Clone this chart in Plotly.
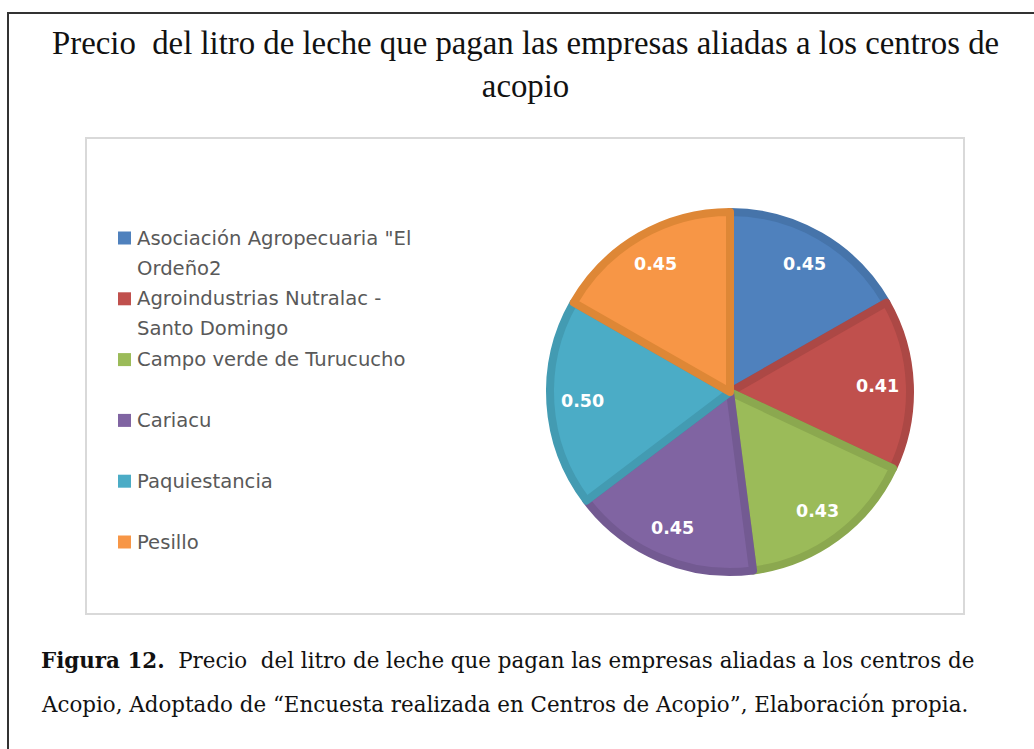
import math
import plotly.graph_objects as go

# ---- data ----
labels = [
    'Asociación Agropecuaria "El<br>Ordeño2',
    "Agroindustrias Nutralac -<br>Santo Domingo",
    "Campo verde de Turucucho",
    "Cariacu",
    "Paquiestancia",
    "Pesillo",
]
values = [0.45, 0.41, 0.43, 0.45, 0.50, 0.45]
colors = ["#4F81BD", "#C0504D", "#9BBB59", "#8064A2", "#4BACC6", "#F79646"]
edge_colors = ["#4674AA", "#AC4845", "#8BA84F", "#735A92", "#439BB2", "#DE8736"]

title_text = "Precio  del litro de leche que pagan las empresas aliadas a los centros de<br>acopio"
caption_lines = [
    "<b>Figura 12.</b>  Precio  del litro de leche que pagan las empresas aliadas a los centros de",
    "Acopio, Adoptado de \u201cEncuesta realizada en Centros de Acopio\u201d, Elaboración propia.",
]

W, H = 1034, 749


def px(x):
    return x / W


def py(y):
    return 1 - y / H


# pie geometry (pixels)
cx, cy, R = 730, 392, 180

fig = go.Figure()
fig.add_trace(go.Pie(
    labels=[l.replace("<br>", " ") for l in labels],
    values=values,
    sort=False,
    direction="clockwise",
    rotation=0,
    textinfo="none",
    marker=dict(colors=colors, line=dict(color=edge_colors, width=8)),
    domain=dict(x=[px(cx - R), px(cx + R)], y=[py(cy + R), py(cy - R)]),
    showlegend=False,
    hoverinfo="label+value",
))

annotations = []
shapes = []

# data labels placed at "inside end" like the original
total = sum(values)
cum = 0.0
for v in values:
    mid = (cum + v / 2) / total * 2 * math.pi
    cum += v
    r = 0.82 * R
    x = cx + r * math.sin(mid)
    y = cy - r * math.cos(mid)
    annotations.append(dict(
        x=px(x), y=py(y), xref="paper", yref="paper",
        text=f"<b>{v:.2f}</b>", showarrow=False,
        font=dict(family="DejaVu Sans", size=17.5, color="white"),
        xanchor="center", yanchor="middle",
    ))

# legend (custom, Excel-like spacing)
leg_y0, leg_step, line_step = 238, 60.8, 30
for i, (lab, col) in enumerate(zip(labels, colors)):
    yc = leg_y0 + i * leg_step
    shapes.append(dict(type="rect", xref="paper", yref="paper",
                       x0=px(118), x1=px(131), y0=py(yc + 6.5), y1=py(yc - 6.5),
                       fillcolor=col, line=dict(width=0)))
    for j, part in enumerate(lab.split("<br>")):
        annotations.append(dict(
            x=px(135), y=py(yc + j * line_step), xref="paper", yref="paper",
            text=part, showarrow=False,
            font=dict(family="DejaVu Sans", size=19.6, color="#595959"),
            xanchor="left", yanchor="middle",
        ))

# title
annotations.append(dict(
    x=px(525), y=py(64), xref="paper", yref="paper",
    text=title_text, showarrow=False,
    font=dict(family="Liberation Serif", size=32.8, color="#111111"),
    xanchor="center", yanchor="middle",
))

# caption
for k, line in enumerate(caption_lines):
    annotations.append(dict(
        x=px(39), y=py(660 + k * 44), xref="paper", yref="paper",
        text=line, showarrow=False,
        font=dict(family="DejaVu Serif", size=21.4, color="#111111"),
        xanchor="left", yanchor="middle",
    ))

# frames
shapes.append(dict(type="rect", xref="paper", yref="paper",
                   x0=px(86), x1=px(964), y0=py(614), y1=py(138),
                   line=dict(color="#D9D9D9", width=2), fillcolor="rgba(0,0,0,0)"))
shapes.append(dict(type="rect", xref="paper", yref="paper",
                   x0=px(8), x1=px(1045), y0=py(760), y1=py(13),
                   line=dict(color="#333333", width=2), fillcolor="rgba(0,0,0,0)"))

fig.update_layout(
    width=W, height=H,
    margin=dict(l=0, r=0, t=0, b=0),
    paper_bgcolor="white", plot_bgcolor="white",
    annotations=annotations, shapes=shapes,
    showlegend=False,
)

fig.write_html(
    "out.html",
    config={"displayModeBar": False},
    post_script="document.body.style.margin='0px';document.body.style.overflow='hidden';",
)
